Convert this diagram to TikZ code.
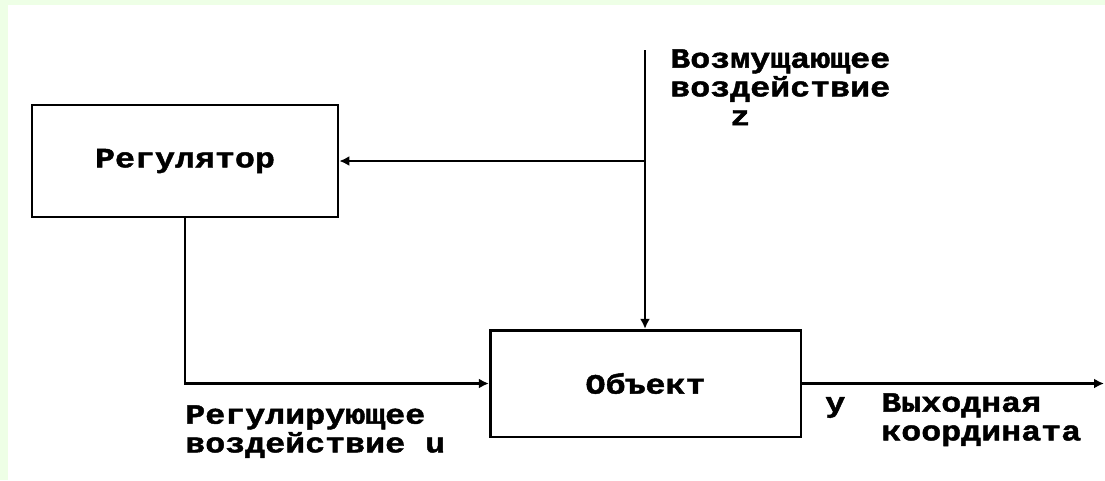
\documentclass[tikz,border=0pt]{standalone}
\usepackage{fontspec}
\newfontfamily\scanfont{Liberation Mono}[FakeStretch=1.19, BoldFeatures={FakeBold=1.6}]
\usetikzlibrary{arrows.meta}
\definecolor{framegreen}{RGB}{238,255,230}

\begin{document}
\begin{tikzpicture}[
  x=0.75pt, y=-0.75pt,
  txt/.style={font={\scanfont\bfseries\fontsize{21}{21.5}\selectfont}},
  blk/.style={draw, line width=2pt, inner sep=0pt, txt},
  sig/.style={line width=1.8pt, -{Latex[length=7.5pt,width=7.5pt]}},
  lab/.style={txt, inner sep=0pt, align=left, anchor=north west}
]
% page and frame
\fill[white] (0,0) rectangle (1105,480);
\fill[framegreen] (0,0) rectangle (1105,5);
\fill[framegreen] (0,0) rectangle (8,480);
\useasboundingbox (0,0) rectangle (1105,480);

% blocks
\node[blk, minimum width=229.5pt, minimum height=84pt] (reg) at (185,161) {Регулятор};
\node[blk, minimum width=233pt, minimum height=80pt] (obj) at (645.5,383.5) {Объект};

% signals
\coordinate (zin) at (645,50);
\coordinate (zbr) at (645,161);
\coordinate (yout) at (1104,383.5);
\draw[sig] (zin) -- (zin |- obj.north);
\draw[sig] (zbr) -- (reg.east);
\draw[sig] (reg.south) |- (obj.west);
\draw[sig] (obj.east) -- (yout);

% labels
\node[lab] (zlab) at (670,49) {Возмущающее\\воздействие\\\hphantom{ооо}z};
\node[lab] (ulab) at (185,405) {Регулирующее\\воздействие u};
\node[lab, anchor=base west] (ylab) at (825,412) {y};
\node[lab] (outlab) at (881,393) {Выходная\\координата};
\end{tikzpicture}
\end{document}
